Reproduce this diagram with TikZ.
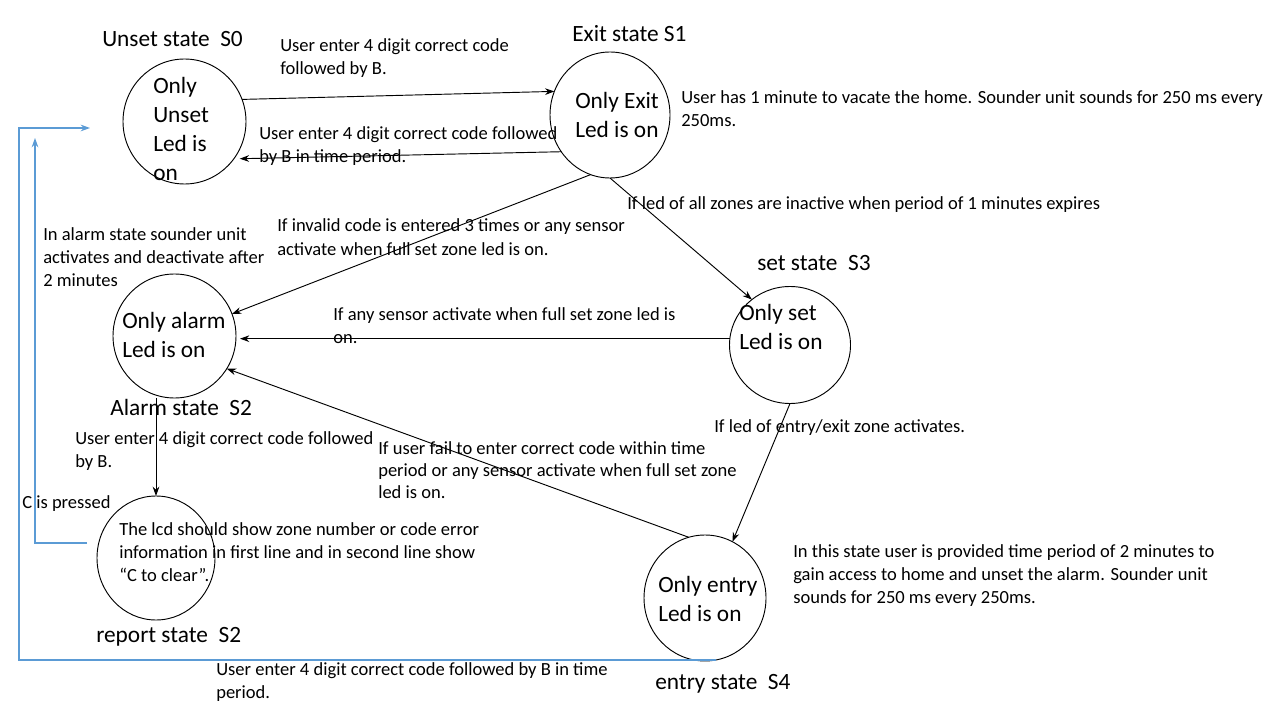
\documentclass[tikz,border=0pt]{standalone}
\usepackage{fontspec}
\setmainfont{Carlito}
\usetikzlibrary{shapes.geometric,arrows.meta}
\definecolor{lineblue}{HTML}{5B9BD5}
\begin{document}
\begin{tikzpicture}[x=0.75pt,y=-0.75pt,
  stt/.style={ellipse,draw,line width=0.7pt,inner sep=0pt,outer sep=0pt},
  small/.style={font=\fontsize{13.9}{17.25}\selectfont,align=left,inner sep=0pt,anchor=base west},
  big/.style={font=\fontsize{17.5}{21.75}\selectfont,align=left,inner sep=0pt,anchor=base west},
  lbl/.style={font=\fontsize{17.5}{20}\selectfont,inner sep=0pt,anchor=base west},
  edge/.style={line width=0.7pt,-{Stealth[length=7pt,width=5pt]}},
  bedge/.style={line width=0.9pt,draw=lineblue,-{Stealth[length=7pt,width=5pt,fill=lineblue]}}]
\useasboundingbox (0,0) rectangle (1280,720);
% states
\node[stt,minimum width=92.25pt,minimum height=93.75pt] (s0) at (184.5,121.5) {};
\node[stt,minimum width=90pt,minimum height=94.5pt] (s1) at (610,115) {};
\node[stt,minimum width=92.25pt,minimum height=93pt] (s2) at (174.5,336) {};
\node[stt,minimum width=90.75pt,minimum height=87.75pt] (s3) at (790,345) {};
\node[stt,minimum width=88.5pt,minimum height=93pt] (rep) at (156,558) {};
\node[stt,minimum width=91.5pt,minimum height=94.5pt] (s4) at (705,598) {};
% state texts (anchored at the baseline of their last line)
\node[big] (s0t) at (153,181) {Only\\Unset\\Led is\\on};
\node[big] (s1t) at (575,138) {Only Exit\\Led is on};
\node[big] (s2t) at (122,357) {Only alarm\\Led is on};
\node[big] (s3t) at (739,349) {Only set\\Led is on};
\node[big] (s4t) at (658,621) {Only entry\\Led is on};
\node[small] (rept) at (119,581) {The lcd should show zone number or code error\\information in first line and in second line show\\“C to clear”.};
% state labels
\node[lbl] (l0) at (102,47) {Unset state~~S0};
\node[lbl] (l1) at (572,42) {Exit state S1};
\node[lbl] (l3) at (757,270) {set state~~S3};
\node[lbl] (l2) at (110,415) {Alarm state~~S2};
\node[lbl] (lr) at (96,642) {report state~~S2};
\node[lbl] (l4) at (655,689) {entry state~~S4};
% transition texts
\node[small] (t1) at (280,75) {User enter 4 digit correct code\\followed by B.};
\node[small] (t2) at (259,163) {User enter 4 digit correct code followed\\by B in time period.};
\node[small] (t3) at (681,127) {User has 1 minute to vacate the home. Sounder unit sounds for 250 ms every\\250ms.};
\node[small] (t4) at (627,210) {If led of all zones are inactive when period of 1 minutes expires};
\node[small] (t5) at (277,255) {If invalid code is entered 3 times or any sensor\\activate when full set zone led is on.};
\node[small,font=\fontsize{13.9}{16.9}\selectfont] (t6) at (43,286) {In alarm state sounder unit\\activates and deactivate after\\2 minutes};
\node[small] (t7) at (333,343) {If any sensor activate when full set zone led is\\on.};
\node[small] (t8) at (714,432) {If led of entry/exit zone activates.};
\node[small] (t9) at (75,467) {User enter 4 digit correct code followed\\by B.};
\node[small,font=\fontsize{13.9}{16.5}\selectfont] (t10) at (378,498) {If user fail to enter correct code within time\\period or any sensor activate when full set zone\\led is on.};
\node[small] (t11) at (22,508) {C is pressed};
\node[small] (t13) at (793,603) {In this state user is provided time period of 2 minutes to\\gain access to home and unset the alarm. Sounder unit\\sounds for 250 ms every 250ms.};
\node[small] (t14) at (216,698) {User enter 4 digit correct code followed by B in time\\period.};
% connectors
\draw[edge] (s0.21) -- (s1.157);
\draw[edge] (s1.217) -- ([xshift=3pt,yshift=-2pt]s0.-34);
\draw[edge] (s1.252) -- (s2.21);
\draw[edge] (s1.270) -- (s3.130);
\draw[edge] (s3.174) -- ([xshift=3pt]s2.east |- s3.174);
\draw[edge] (s4.105) -- (s2.-32);
\draw[edge] (s3.south) -- (s4.64);
\draw[edge] (rep.north |- s2.south) -- (rep.north);
% blue return paths
\coordinate (a0) at (90,128);
\coordinate (ac) at (19,128);
\draw[bedge] (s4.-80) -| (ac) -- (a0);
\coordinate (b0) at (87,543);
\coordinate (bt) at (35,138);
\draw[bedge] (b0) -| (bt);
\end{tikzpicture}
\end{document}
